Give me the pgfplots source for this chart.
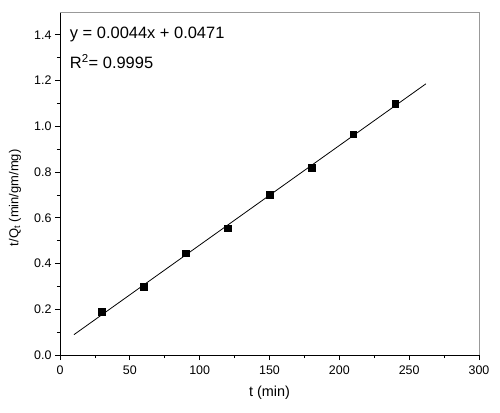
\documentclass[border=0pt]{standalone}
\usepackage{fontspec}
\setmainfont{Liberation Sans}
\usepackage{pgfplots}
\pgfplotsset{compat=1.18}
\begin{document}
\begin{tikzpicture}
\path[use as bounding box] (-60bp,-58bp) rectangle (440bp,355bp);
\begin{axis}[
  at={(0,0)}, anchor=south west,
  scale only axis, width=419bp, height=343bp,
  xmin=0, xmax=300, ymin=0, ymax=1.5,
  axis lines=left, axis line style={-, line width=0.9pt},
  xtick={0,50,...,300}, ytick={0,0.2,...,1.4},
  minor x tick num=1, minor y tick num=1,
  tick align=outside,
  major tick length=5bp, minor tick length=3bp,
  tick style={black, line width=0.8pt},
  /pgf/number format/assume math mode=true,
  /pgf/number format/fixed, /pgf/number format/fixed zerofill,
  /pgf/number format/precision=1,
  xticklabel style={font=\fontsize{12.5}{14}\selectfont, /pgf/number format/precision=0, /pgf/number format/fixed zerofill=false, yshift=-2bp},
  yticklabel style={font=\fontsize{12.5}{14}\selectfont},
  xlabel={t (min)}, ylabel={t/Q\textsubscript{t} (min/gm/mg)},
  xlabel style={font=\fontsize{14.5}{16}\selectfont, at={(axis description cs:0.5,-0.111)}, anchor=center},
  ylabel style={font=\fontsize{13}{15}\selectfont, at={(axis description cs:-0.1074,0.458)}, anchor=center},
  clip=false,
]
\draw[gray!80, line width=0.9pt] (rel axis cs:0,1) -- (rel axis cs:1,1) -- (rel axis cs:1,0);
\addplot[black, line width=0.8pt] coordinates {(10,0.089) (262,1.186)};
\addplot[only marks, mark=square*, mark size=3.3bp, black] coordinates {
(30,0.19) (60,0.30) (90,0.445) (120,0.555) (150,0.70) (180,0.82) (210,0.965) (240,1.098)};
\node[anchor=west, font=\fontsize{16.5}{18}\selectfont, inner sep=0pt] at (axis cs:7,1.4) {y = 0.0044x + 0.0471};
\node[anchor=west, font=\fontsize{16.5}{18}\selectfont, inner sep=0pt] at (axis cs:7,1.282) {R\textsuperscript{2}= 0.9995};
\end{axis}
\end{tikzpicture}
\end{document}
